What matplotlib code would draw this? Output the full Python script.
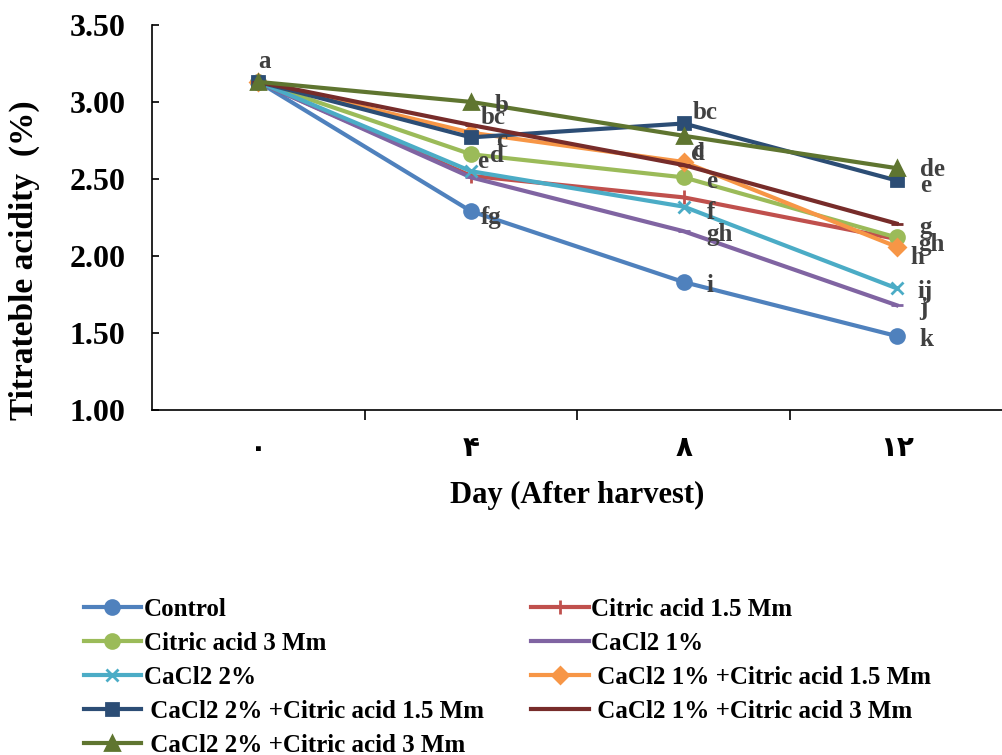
import matplotlib
matplotlib.use("Agg")
import matplotlib.pyplot as plt

# days and values
days = ["\u06f0", "\u06f4", "\u06f8", "\u06f1\u06f2"]

control = [3.13, 2.29, 1.83, 1.48]
citric_15 = [3.13, 2.52, 2.38, 2.11]
citric_3 = [3.13, 2.66, 2.51, 2.12]
cacl2_1 = [3.13, 2.51, 2.16, 1.68]
cacl2_2 = [3.13, 2.55, 2.32, 1.79]
cacl2_1_citric_15 = [3.13, 2.80, 2.61, 2.06]
cacl2_2_citric_15 = [3.13, 2.77, 2.86, 2.49]
cacl2_1_citric_3 = [3.13, 2.85, 2.59, 2.21]
cacl2_2_citric_3 = [3.13, 3.00, 2.78, 2.57]

series_names = ["Control", "Citric acid 1.5 Mm", "Citric acid 3 Mm", "CaCl2 1%",
                "CaCl2 2%", " CaCl2 1% +Citric acid 1.5 Mm",
                " CaCl2 2% +Citric acid 1.5 Mm", " CaCl2 1% +Citric acid 3 Mm",
                " CaCl2 2% +Citric acid 3 Mm"]
series_values = [control, citric_15, citric_3, cacl2_1, cacl2_2,
                 cacl2_1_citric_15, cacl2_2_citric_15, cacl2_1_citric_3, cacl2_2_citric_3]

# significance letters per series (day 0, 4, 8, 12)
letters = [
    ["", "fg", "i", "k"],
    ["", "", "f", "g"],
    ["", "d", "e", "gh"],
    ["", "", "gh", "j"],
    ["", "e", "", "ij"],
    ["", "bc", "d", "h"],
    ["", "c", "bc", "e"],
    ["", "", "", ""],
    ["a", "b", "c", "de"],
]

# label offsets in pixels
offsets = [
    [(0, 0), (20, -6), (26, -3), (30, -3)],
    [(0, 0), (0, 0), (27, -15), (29, 12)],
    [(0, 0), (26, -1), (28, -4), (35, -7)],
    [(0, 0), (0, 0), (36, -3), (27, -3)],
    [(0, 0), (12, 10), (0, 0), (29, -3)],
    [(0, 0), (22, 15), (14, 8), (21, -11)],
    [(0, 0), (31, -3), (21, 11), (29, -5)],
    [(0, 0), (0, 0), (0, 0), (0, 0)],
    [(6, 20), (31, -4), (14, -15), (36, -1)],
]

colors = ["#4F81BD", "#C0504D", "#9BBB59", "#8064A2", "#4BACC6",
          "#F79646", "#2C4D75", "#772C2A", "#5F7530"]
markers = ["o", "|", "o", "_", "x", "D", "s", "_", "^"]
msizes = [10, 10, 10, 8, 9, 8, 9, 8, 10]

plt.rcParams["font.family"] = ["Liberation Serif", "DejaVu Sans"]
plt.rcParams["font.weight"] = "bold"

fig = plt.figure(figsize=(10.03, 7.55), dpi=100)
ax = fig.add_axes([0.1515, 0.457, 0.8485, 0.51])

x = list(range(len(days)))
handles = []
for i in range(len(series_values)):
    h, = ax.plot(x, series_values[i], color=colors[i], lw=3, marker=markers[i],
                 markersize=msizes[i], markeredgewidth=2, label=series_names[i])
    handles.append(h)

for i in range(len(series_values)):
    for j in range(len(days)):
        if letters[i][j]:
            ax.annotate(letters[i][j], (x[j], series_values[i][j]),
                        xytext=offsets[i][j], textcoords="offset pixels",
                        ha="center", va="center", fontsize=18,
                        color="#404040", fontweight="bold")

ax.set_xlim(-0.5, 3.5)
ax.set_ylim(1.0, 3.5)
ax.set_yticks([1.0, 1.5, 2.0, 2.5, 3.0, 3.5])
ax.set_yticklabels(["%.2f" % v for v in [1.0, 1.5, 2.0, 2.5, 3.0, 3.5]],
                   fontsize=23, fontweight="bold")
ax.set_xticks(x)
ax.set_xticklabels(days, fontsize=20, fontweight="bold",
                   family=["DejaVu Sans"])
ax.set_xticks([0.5, 1.5, 2.5], minor=True)
ax.tick_params(axis="x", which="major", length=0, pad=17)
ax.tick_params(axis="x", which="minor", length=7, width=1.2, direction="out")
ax.tick_params(axis="y", length=5, width=1.2, direction="in", pad=19)
ax.spines["top"].set_visible(False)
ax.spines["right"].set_visible(False)
ax.spines["left"].set_linewidth(1.2)
ax.spines["bottom"].set_linewidth(1.2)

ax.set_xlabel("Day (After harvest)", fontsize=22, fontweight="bold", labelpad=14)
ax.set_ylabel("Titrateble acidity  (%)", fontsize=24, fontweight="bold")
ax.yaxis.set_label_coords(-0.131, 0.39)

# legend fills column-wise, so reorder to match row-wise layout
order = [0, 2, 4, 6, 8, 1, 3, 5, 7]
fig.legend([handles[k] for k in order], [series_names[k] for k in order],
           loc="upper left", bbox_to_anchor=(0.061, 0.2375), ncol=2,
           frameon=False, handlelength=2.3, handletextpad=0.1,
           columnspacing=1.9, labelspacing=0.44,
           prop={"weight": "bold", "size": 18})

fig.savefig("out.png", dpi=100)
